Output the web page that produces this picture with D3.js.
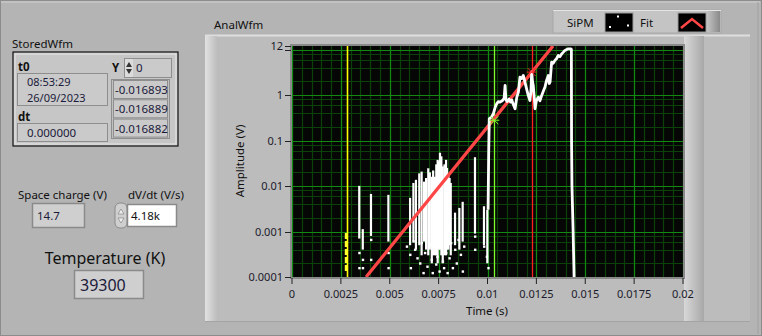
<!DOCTYPE html>
<html><head><meta charset="utf-8">
<script src="https://cdn.jsdelivr.net/npm/d3@7"></script>
<style>
html,body{margin:0;padding:0;background:#b4b4b4;}
svg{display:block;font-family:"Noto Sans","Open Sans",sans-serif;}
</style></head>
<body>
<script>
// ---------- data ----------
const xTicks = [0,0.0025,0.005,0.0075,0.01,0.0125,0.015,0.0175,0.02];
const xTickLabels = ["0","0.0025","0.005","0.0075","0.01","0.0125","0.015","0.0175","0.02"];
const yTicks = [12,1,0.1,0.01,0.001,0.0001];
const yTickLabels = ["12","1","0.1","0.01","0.001","0.0001"];

// main SiPM trace (time s, amplitude V)
const mainT = [0.01003,0.01006,0.01009,0.01020,0.01030,0.01040,0.01047,0.01055,0.01064,0.01075,0.01085,0.01090,0.01094,0.01100,0.01110,0.01118,0.01124,0.01132,0.01141,0.01150,0.01158,0.01166,0.01175,0.01183,0.01192,0.01200,0.01208,0.01217,0.01222,0.01226,0.01230,0.01234,0.01240,0.01243,0.01250,0.01260,0.01268,0.01277,0.01285,0.01294,0.01302,0.01311,0.01316,0.01320,0.01328,0.01336,0.01345,0.01353,0.01362,0.01370,0.01379,0.01388,0.01396,0.01405,0.01413,0.01425,0.01429,0.01430,0.01432,0.01438,0.01443];
const mainV = [0.003,0.05,0.30,0.33,0.39,0.55,0.64,0.72,0.70,0.75,0.85,1.63,0.80,0.72,0.82,0.70,0.78,0.62,0.50,0.90,1.16,2.48,2.3,2.7,1.9,1.37,1.0,0.76,1.2,3.2,2.0,1.63,0.8,0.50,0.75,0.90,0.75,0.98,1.2,1.50,2.1,2.7,1.8,1.93,5.3,5.0,5.8,6.3,7.4,7.0,8.05,8.8,9.6,10.0,10.4,10.4,10.2,0.093,0.01,0.001,0.0001];

// low-amplitude spikes: time, top, bottom of solid part
const spikeT  = [0.00344,0.00362,0.00404,0.00493,0.00604,0.00621,0.00634,0.00651,0.00663,0.00675,0.00686,0.00697,0.00705,0.00715,0.00722,0.00731,0.00738,0.00745,0.00751,0.00757,0.00764,0.00771,0.00780,0.00788,0.00793,0.00800,0.00806,0.00812,0.00834,0.00856,0.00873,0.00936,0.00982,0.00999];
const spikeHi = [0.0101,0.00113,0.0067,0.0064,0.0055,0.0117,0.0137,0.019,0.0208,0.0125,0.015,0.0246,0.02,0.016,0.022,0.016,0.03,0.0376,0.035,0.054,0.045,0.027,0.03,0.0376,0.025,0.019,0.015,0.0117,0.0026,0.0033,0.0045,0.043,0.0036,0.003];
const spikeLo = [0.0007,0.0004,0.0008,0.0006,0.0005,0.0006,0.0004,0.0005,0.0003,0.0006,0.0004,0.0003,0.0004,0.0002,0.0003,0.0003,0.0003,0.0002,0.0004,0.0004,0.0003,0.0002,0.0003,0.0003,0.0004,0.0004,0.0005,0.0003,0.0005,0.0004,0.0006,0.0009,0.0005,0.0002];

// scattered single samples
const dotT = [0.00344,0.00344,0.00362,0.00362,0.00404,0.00404,0.00493,0.00493,0.00587,0.00604,0.00607,0.00621,0.00629,0.00641,0.00655,0.00663,0.00672,0.00680,0.00692,0.00706,0.00714,0.00719,0.00726,0.00737,0.00743,0.00754,0.00762,0.00771,0.00777,0.00788,0.00795,0.00805,0.00813,0.00822,0.00834,0.00842,0.00851,0.00863,0.00873,0.00880,0.00936,0.00936,0.00982,0.00996,0.01004];
const dotV = [0.000158,0.00034,0.00024,0.000158,0.00066,0.00024,0.00034,0.000158,0.00047,0.00031,0.000158,0.00061,0.00040,0.00026,0.00020,0.00056,0.000123,0.00034,0.00017,0.00051,0.00024,0.000123,0.00040,0.00019,0.00028,0.000133,0.00047,0.00022,0.000158,0.00034,0.000123,0.00026,0.00056,0.000158,0.00040,0.00020,0.00066,0.00031,0.000133,0.00047,0.00078,0.00040,0.00047,0.00028,0.000158];

// samples highlighted at yellow cursor
const yelT = [0.00279];
const yelHi = [0.00093];
const yelLo = [0.00013];

// exponential fit line (endpoints)
const fitT = [0.00379,0.01335];
const fitV = [0.0001,12];

// cursors
const cursorT = [0.00279,0.01035,0.01226];
const cursorV = [null,0.28,3.2];
const cursorColor = ["#ffff00","#7cff2a","#ff2020"];

// ---------- drawing ----------
const W=762,H=336;
const svg=d3.select("body").append("svg").attr("width",W).attr("height",H);
const defs=svg.append("defs");
const g1=defs.append("linearGradient").attr("id","lgL").attr("x1",0).attr("x2",1);
g1.append("stop").attr("offset",0).attr("stop-color","#e2e2e2");
g1.append("stop").attr("offset",1).attr("stop-color","#bdbdbd");
const g2=defs.append("linearGradient").attr("id","lgR").attr("x1",0).attr("x2",1);
g2.append("stop").attr("offset",0).attr("stop-color","#d8d8d8");
g2.append("stop").attr("offset",1).attr("stop-color","#a8a8a8");
const g3=defs.append("linearGradient").attr("id","lgB").attr("x1",0).attr("x2",1);
g3.append("stop").attr("offset",0).attr("stop-color","#c8c8c8");
g3.append("stop").attr("offset",1).attr("stop-color","#8a8a8a");

// panel
svg.append("rect").attr("x",0).attr("y",0).attr("width",W).attr("height",H).attr("fill","#b4b4b4");
svg.append("rect").attr("x",0.5).attr("y",0.5).attr("width",W-1).attr("height",H-1).attr("fill","none").attr("stroke","#8c8c8c");
svg.append("line").attr("x1",1).attr("x2",W-2).attr("y1",2).attr("y2",2).attr("stroke","#d0d0d0");
svg.append("line").attr("x1",W-4).attr("x2",W-4).attr("y1",2).attr("y2",H-2).attr("stroke","#a0a0a0");

// graph body
svg.append("rect").attr("x",205).attr("y",35).attr("width",545).attr("height",287).attr("fill","#bcbcbc");
svg.append("line").attr("x1",205).attr("x2",750).attr("y1",35.5).attr("y2",35.5).attr("stroke","#dedede").attr("stroke-width",2);
svg.append("rect").attr("x",205).attr("y",36).attr("width",12).attr("height",286).attr("fill","url(#lgL)");
svg.append("rect").attr("x",684).attr("y",36).attr("width",20).attr("height",286).attr("fill","url(#lgR)");
svg.append("line").attr("x1",205).attr("x2",750).attr("y1",321.5).attr("y2",321.5).attr("stroke","#a4a4a4");

svg.append("text").attr("x",214).attr("y",29).attr("font-size",11.5).attr("fill","#111").text("AnalWfm");

const x=d3.scaleLinear().domain([0,0.02]).range([292,683]);
const y=d3.scaleLog().domain([0.0001,12]).range([277,46]);

// plot area
svg.append("rect").attr("x",290).attr("y",44).attr("width",395).attr("height",235).attr("fill","#8a8a8a");
svg.append("rect").attr("x",292).attr("y",46).attr("width",391).attr("height",231).attr("fill","#060606");
const plot=svg.append("g");
defs.append("clipPath").attr("id","clip").append("rect").attr("x",292).attr("y",46).attr("width",391).attr("height",231);
plot.attr("clip-path","url(#clip)");

// grid
const minorX=d3.range(0,41).map(i=>i*0.0005);
const majorX=d3.range(0,9).map(i=>i*0.0025);
const decades=[0.0001,0.001,0.01,0.1,1,10];
const minorY=[];
decades.forEach(d=>[2,4,6,8].forEach(m=>{if(d*m<12)minorY.push(d*m);}));
const minorCol="#0a420a", majorCol="#128a12";
plot.selectAll(".mx").data(minorX).join("line").attr("x1",d=>Math.round(x(d))+0.5).attr("x2",d=>Math.round(x(d))+0.5).attr("y1",46).attr("y2",277).attr("stroke",minorCol).attr("stroke-width",1.2);
plot.selectAll(".my").data(minorY).join("line").attr("y1",d=>Math.round(y(d))+0.5).attr("y2",d=>Math.round(y(d))+0.5).attr("x1",292).attr("x2",683).attr("stroke",minorCol).attr("stroke-width",1.2);
plot.selectAll(".Mx").data(majorX).join("line").attr("x1",d=>Math.round(x(d))+0.5).attr("x2",d=>Math.round(x(d))+0.5).attr("y1",46).attr("y2",277).attr("stroke",majorCol).attr("stroke-width",1.2);
plot.selectAll(".My").data(decades).join("line").attr("y1",d=>Math.round(y(d))+0.5).attr("y2",d=>Math.round(y(d))+0.5).attr("x1",292).attr("x2",683).attr("stroke",majorCol).attr("stroke-width",1.2);

// cursor lines
plot.selectAll(".cur").data(cursorT).join("line").attr("x1",d=>Math.round(x(d))+0.5).attr("x2",d=>Math.round(x(d))+0.5).attr("y1",46).attr("y2",277)
  .attr("stroke",(d,i)=>cursorColor[i]).attr("stroke-width",(d,i)=>i==0?1.6:1.3);

// fit
const fitPts=fitT.map((t,i)=>[t,fitV[i]]);
// SiPM spikes
plot.selectAll(".sp").data(spikeT).join("line").attr("x1",d=>x(d)).attr("x2",d=>x(d))
  .attr("y1",(d,i)=>y(spikeHi[i])).attr("y2",(d,i)=>y(spikeLo[i])).attr("stroke","#fff").attr("stroke-width",2.2);
plot.selectAll(".dt").data(dotT).join("rect").attr("x",d=>x(d)-1).attr("y",(d,i)=>y(dotV[i])-1).attr("width",2.4).attr("height",2.4).attr("fill","#fff");
plot.selectAll(".yl").data(yelT).join("line").attr("x1",d=>x(d)-0.5).attr("x2",d=>x(d)-0.5)
  .attr("y1",(d,i)=>y(yelHi[i])).attr("y2",(d,i)=>y(yelLo[i])).attr("stroke","#ffff30").attr("stroke-width",2.5).attr("stroke-dasharray","6,2");

plot.append("path").datum(fitPts).attr("d",d3.line().x(d=>x(d[0])).y(d=>y(d[1])))
  .attr("stroke","#ff4646").attr("stroke-width",3.2).attr("fill","none");

const mainPts=mainT.map((t,i)=>[t,mainV[i]]);
plot.append("path").datum(mainPts).attr("d",d3.line().x(d=>x(d[0])).y(d=>y(d[1])))
  .attr("stroke","#fff").attr("stroke-width",2.8).attr("fill","none").attr("stroke-linejoin","round");

// cursor markers
cursorT.forEach((t,i)=>{
  if(cursorV[i]==null)return;
  const cx=x(t),cy=y(cursorV[i]),c=cursorColor[i];
  const m=plot.append("g").attr("stroke",c).attr("stroke-width",1);
  m.append("line").attr("x1",cx-4).attr("x2",cx+4).attr("y1",cy-4).attr("y2",cy+4);
  m.append("line").attr("x1",cx-4).attr("x2",cx+4).attr("y1",cy+4).attr("y2",cy-4);
  m.append("line").attr("x1",cx-5).attr("x2",cx+5).attr("y1",cy).attr("y2",cy);
});

// axes
const tickCol="#1b1b2b";
const xAxis=svg.append("g");
xAxis.selectAll("line").data(xTicks).join("line").attr("x1",d=>x(d)).attr("x2",d=>x(d)).attr("y1",278).attr("y2",284).attr("stroke","#222");
xAxis.selectAll("text").data(xTicks).join("text").attr("x",d=>x(d)).attr("y",298).attr("text-anchor","middle")
  .attr("font-size",11).attr("fill",tickCol).text((d,i)=>xTickLabels[i]);
svg.append("text").attr("x",487).attr("y",315).attr("text-anchor","middle").attr("font-size",11.5).attr("fill","#111").text("Time (s)");

const yAxis=svg.append("g");
yAxis.selectAll("line").data(yTicks.concat([10])).join("line").attr("x1",285).attr("x2",291).attr("y1",d=>Math.round(y(d))+0.5).attr("y2",d=>Math.round(y(d))+0.5).attr("stroke","#222");
yAxis.selectAll("text").data(yTicks).join("text").attr("x",283).attr("y",d=>y(d)+4).attr("text-anchor","end")
  .attr("font-size",11).attr("fill",tickCol).text((d,i)=>yTickLabels[i]);
svg.append("text").attr("transform","translate(244,161) rotate(-90)").attr("text-anchor","middle").attr("font-size",11.5).attr("fill","#111").text("Amplitude (V)");

// legend
const lg=svg.append("g");
lg.append("rect").attr("x",553).attr("y",10).attr("width",168).attr("height",23).attr("fill","#c4c4c4").attr("stroke","#a8a8a8");
lg.append("line").attr("x1",553).attr("x2",721).attr("y1",10.5).attr("y2",10.5).attr("stroke","#e4e4e4");
lg.append("rect").attr("x",706).attr("y",11).attr("width",14).attr("height",21).attr("fill","url(#lgB)");
lg.append("text").attr("x",567).attr("y",27).attr("font-size",11.5).attr("fill","#111").text("SiPM");
lg.append("rect").attr("x",605).attr("y",13).attr("width",28).attr("height",19).attr("fill","#000").attr("stroke","#9a9a9a");
[[617,15.5],[609,26],[627,24.5]].forEach(p=>lg.append("rect").attr("x",p[0]).attr("y",p[1]).attr("width",2).attr("height",2).attr("fill","#fff"));
lg.append("text").attr("x",640).attr("y",27).attr("font-size",11.5).attr("fill","#111").text("Fit");
lg.append("rect").attr("x",678).attr("y",13).attr("width",28).attr("height",19).attr("fill","#000").attr("stroke","#9a9a9a");
lg.append("polyline").attr("points","681,28 692,19 703,28").attr("fill","none").attr("stroke","#ff4646").attr("stroke-width",2.5);

// ---------- left controls ----------
const L=svg.append("g").attr("fill","#111");
L.append("text").attr("x",12).attr("y",48).attr("font-size",11.5).text("StoredWfm");
L.append("rect").attr("x",13).attr("y",52).attr("width",165).attr("height",94).attr("fill","#c6c6c6").attr("stroke","#111").attr("stroke-width",1.2);
L.append("rect").attr("x",15).attr("y",54).attr("width",161).attr("height",90).attr("fill","none").attr("stroke","#e6e6e6");
L.append("text").attr("x",18).attr("y",71).attr("font-size",11.5).attr("font-weight","bold").text("t0");
L.append("rect").attr("x",17.5).attr("y",73.5).attr("width",90).attr("height",32).attr("fill","#cacaca").attr("stroke","#8e8e8e");
L.append("text").attr("x",27).attr("y",86).attr("font-size",11).attr("fill","#1a1a3a").text("08:53:29");
L.append("text").attr("x",27).attr("y",102).attr("font-size",11).attr("fill","#1a1a3a").text("26/09/2023");
L.append("text").attr("x",18).attr("y",121).attr("font-size",11.5).attr("font-weight","bold").text("dt");
L.append("rect").attr("x",17.5).attr("y",123.5).attr("width",90).attr("height",18).attr("fill","#cacaca").attr("stroke","#8e8e8e");
L.append("text").attr("x",27).attr("y",137).attr("font-size",11.5).attr("fill","#1a1a3a").text("0.000000");
L.append("text").attr("x",112).attr("y",72).attr("font-size",11.5).attr("font-weight","bold").text("Y");
L.append("rect").attr("x",124.5).attr("y",58.5).attr("width",47).attr("height",19).attr("fill","#cacaca").attr("stroke","#8e8e8e");
L.append("rect").attr("x",125).attr("y",59).attr("width",8).attr("height",18).attr("fill","#dcdcdc");
L.append("path").attr("d","M126,67 L129,62 L132,67 Z M126,69 L129,74 L132,69 Z").attr("fill","#333");
L.append("text").attr("x",136).attr("y",72).attr("font-size",11.5).attr("fill","#1a1a3a").text("0");
L.append("rect").attr("x",111.5).attr("y",79.5).attr("width",58).attr("height",59).attr("fill","#c0c0c0").attr("stroke","#8e8e8e");
["-0.016893","-0.016889","-0.016882"].forEach((s,i)=>{
  L.append("rect").attr("x",113.5).attr("y",80.5+i*19.3).attr("width",54).attr("height",18).attr("fill","#cacaca").attr("stroke","#8e8e8e");
  L.append("text").attr("x",115).attr("y",94+i*19.3).attr("font-size",11.5).attr("fill","#1a1a3a").text(s);
});

L.append("text").attr("x",18).attr("y",199).attr("font-size",11.5).text("Space charge (V)");
L.append("rect").attr("x",32.5).attr("y",203.5).attr("width",52).attr("height",24).attr("fill","#cfcfcf").attr("stroke","#8a8a8a").attr("stroke-width",1.5);
L.append("text").attr("x",37).attr("y",220).attr("font-size",11.5).attr("fill","#1a1a3a").text("14.7");
L.append("text").attr("x",128).attr("y",199).attr("font-size",11.5).text("dV/dt (V/s)");
L.append("rect").attr("x",115).attr("y",203).attr("width",12).attr("height",25).attr("rx",5).attr("fill","#cfcfcf").attr("stroke","#8a8a8a");
L.append("path").attr("d","M118,214 L121,209 L124,214 Z M118,218 L121,223 L124,218 Z").attr("fill","#eee").attr("stroke","#777").attr("stroke-width",0.6);
L.append("rect").attr("x",127.5).attr("y",204.5).attr("width",49).attr("height",22).attr("fill","#ffffff").attr("stroke","#8a8a8a").attr("stroke-width",1.5);
L.append("text").attr("x",131).attr("y",220).attr("font-size",11.5).attr("fill","#111").text("4.18k");

L.append("text").attr("x",105).attr("y",264).attr("text-anchor","middle").attr("font-size",16).text("Temperature (K)");
L.append("rect").attr("x",74.5).attr("y",270.5).attr("width",69).attr("height",28).attr("fill","#cfcfcf").attr("stroke","#8a8a8a").attr("stroke-width",1.5);
L.append("text").attr("x",80).attr("y",291).attr("font-size",16).attr("fill","#1a1a3a").text("39300");
</script>
</body></html>
